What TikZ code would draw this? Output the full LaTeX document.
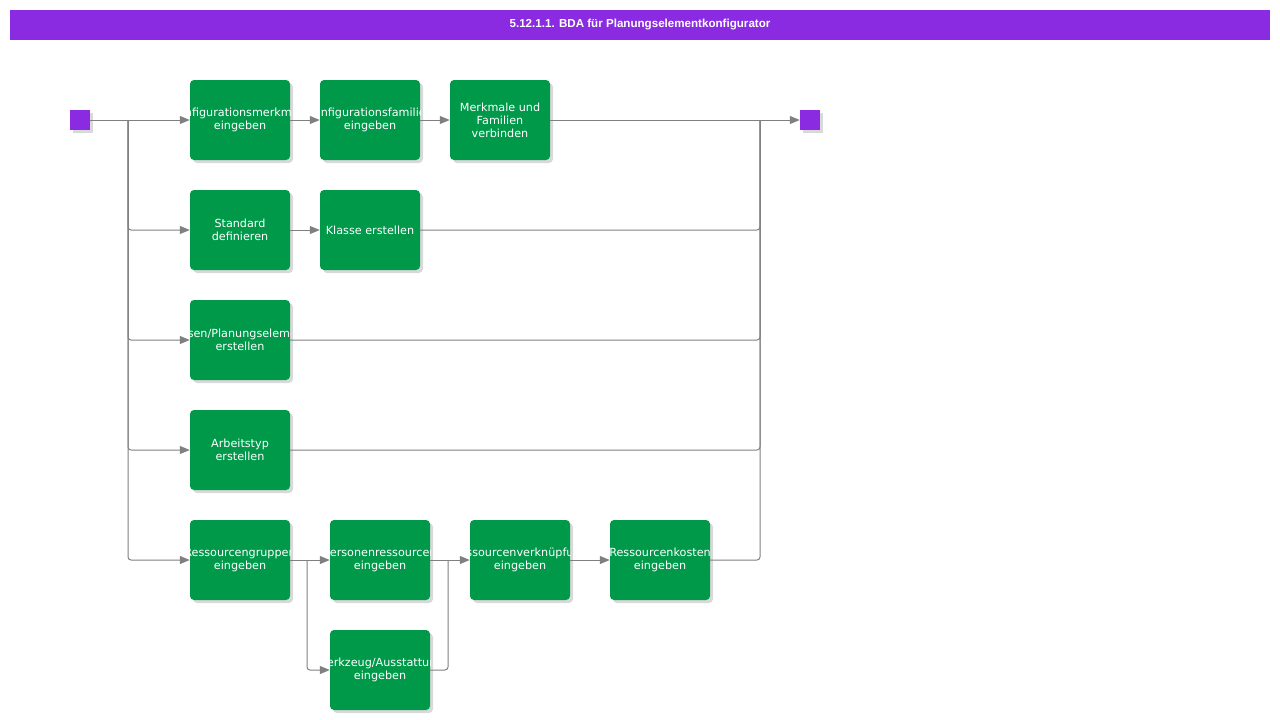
\documentclass[tikz,border=0pt]{standalone}
\usepackage{fontspec}
\usepackage{tikz}
\usetikzlibrary{arrows.meta,shadows}
\newfontfamily\boxfont{DejaVu Sans}
\newfontfamily\headfont{Liberation Sans}
\definecolor{headviolet}{RGB}{138,43,226}
\definecolor{taskgreen}{RGB}{0,153,74}
\definecolor{linegray}{RGB}{128,128,128}

\begin{document}
\begin{tikzpicture}[x=1pt, y=-1pt, >={Triangle[length=10pt,width=8pt]},
    tasktext/.style={text=white, align=center, inner sep=0pt,
      font=\boxfont\fontsize{11.2}{13}\selectfont},
    task/.style={rounded corners=4pt, fill=taskgreen, minimum width=100pt,
      minimum height=80pt, inner sep=0pt,
      drop shadow={shadow xshift=3pt, shadow yshift=-3pt, opacity=0.3},
      path picture={\node[tasktext] at (path picture bounding box.center) {#1};}},
    terminal/.style={fill=headviolet, minimum size=20pt, inner sep=0pt,
      drop shadow={shadow xshift=3pt, shadow yshift=-3pt, opacity=0.3}},
    line/.style={draw=linegray, line width=1pt, rounded corners=3pt},
    flow/.style={line, ->, linegray}]
    \useasboundingbox (0,0) rectangle (1280,720);

    % Title bar
    \fill[headviolet] (10,10) rectangle (1270,40);
    \node[text=white, font=\headfont\bfseries\fontsize{11.6}{14}\selectfont] (title) at (640,25)
      {5.12.1.1. BDA für Planungselementkonfigurator};

    % Start and end
    \node[terminal] (start) at (80,120) {};
    \node[terminal] (end) at (810,120) {};
    \coordinate (split) at (128,120);
    \coordinate (join) at (760,120);

    % Tasks
    \node[task={Konfigurationsmerkmale\\eingeben}] (a1) at (240,120) {};
    \node[task={Konfigurationsfamilien\\eingeben}] (a2) at (370,120) {};
    \node[task={Merkmale und\\Familien\\verbinden}] (a3) at (500,120) {};
    \node[task={Standard\\definieren}] (b1) at (240,230) {};
    \node[task={Klasse erstellen}] (b2) at (370,230) {};
    \node[task={Klassen/Planungselemente\\erstellen}] (c1) at (240,340) {};
    \node[task={Arbeitstyp\\erstellen}] (d1) at (240,450) {};
    \node[task={Ressourcengruppen\\eingeben}] (e1) at (240,560) {};
    \node[task={Personenressourcen\\eingeben}] (e2) at (380,560) {};
    \node[task={Ressourcenverknüpfung\\eingeben}] (e3) at (520,560) {};
    \node[task={Ressourcenkosten\\eingeben}] (e4) at (660,560) {};
    \node[task={Werkzeug/Ausstattung\\eingeben}] (f1) at (380,670) {};
    \coordinate (fork) at (307,560);
    \coordinate (merge) at (448,560);

    % Connectors
    \draw[line] (start) -- (split);
    \draw[flow] (split) -- (a1);
    \draw[flow] (split) |- (b1);
    \draw[flow] (split) |- (c1);
    \draw[flow] (split) |- (d1);
    \draw[flow] (split) |- (e1);
    \draw[flow] (a1) -- (a2);
    \draw[flow] (a2) -- (a3);
    \draw[flow] (a3) -- (end);
    \draw[flow] (b1) -- (b2);
    \draw[line] (b2) -| (join);
    \draw[line] (c1) -| (join);
    \draw[line] (d1) -| (join);
    \draw[line] (e4) -| (join);
    \draw[line] (e1) -- (fork);
    \draw[flow] (fork) -- (e2);
    \draw[flow] (fork) |- (f1);
    \draw[line] (e2) -- (merge);
    \draw[line] (f1) -| (merge);
    \draw[flow] (merge) -- (e3);
    \draw[flow] (e3) -- (e4);
\end{tikzpicture}
\end{document}
